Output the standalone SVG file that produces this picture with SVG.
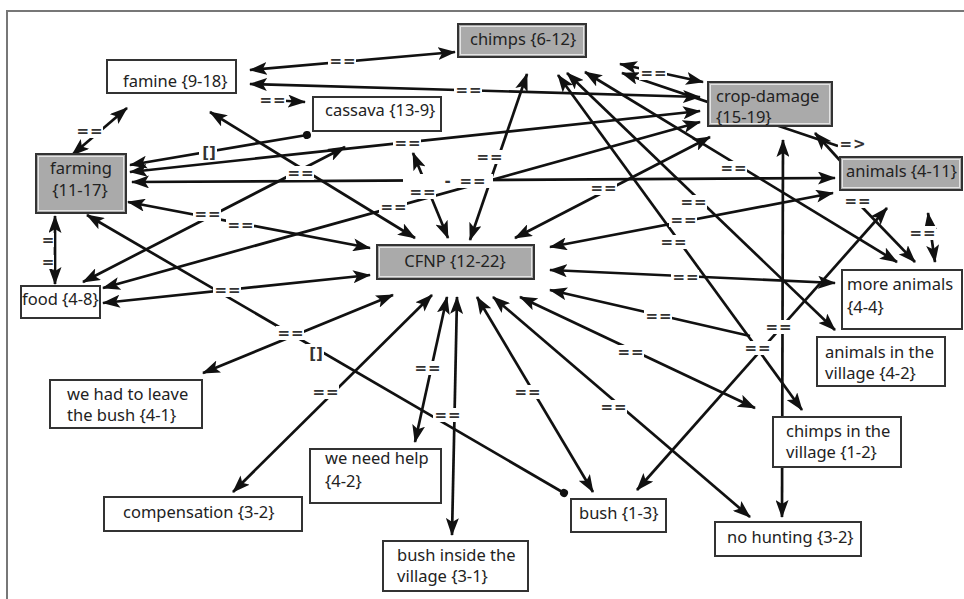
<svg xmlns="http://www.w3.org/2000/svg" width="964" height="599" viewBox="0 0 964 599">
<style>
.e{stroke:#111;stroke-width:2.7;fill:none}
.b{marker-start:url(#ah);marker-end:url(#ah)}
.ae{marker-end:url(#ah)}
.as{marker-start:url(#ah)}
.ds{marker-start:url(#dot)}
.lbg{fill:#fff}
.lt{font-family:"DejaVu Sans","Noto Sans",sans-serif;font-size:15px;font-weight:bold;fill:#333;text-anchor:middle;letter-spacing:1px}
.nw{fill:#fff;stroke:#333;stroke-width:2}
.ng{fill:#aaa;stroke:#333;stroke-width:2}
.ngi{fill:none;stroke:#e4e4e4;stroke-width:1}
.nt{font-family:"Noto Sans","Liberation Sans",sans-serif;font-size:16.5px;fill:#222}
</style>
<defs>
<marker id="ah" markerUnits="userSpaceOnUse" markerWidth="18" markerHeight="13" viewBox="0 0 18 13" refX="17" refY="6.5" orient="auto-start-reverse"><path d="M0,0 L18,6.5 L0,13 L4,6.5 z" fill="#111"/></marker>
<marker id="dot" markerUnits="userSpaceOnUse" markerWidth="10" markerHeight="10" viewBox="0 0 10 10" refX="5" refY="5" orient="auto"><circle cx="5" cy="5" r="4" fill="#111"/></marker>
</defs>
<rect width="964" height="599" fill="#fff"/>
<path d="M7,599 V11 H964" fill="none" stroke="#777" stroke-width="2"/>
<g id="connectors">
<line class="e b" x1="250" y1="70" x2="455" y2="52"/>
<line class="e b" x1="250" y1="84" x2="700" y2="97"/>
<line class="e ae" x1="262" y1="99.5" x2="305" y2="102"/>
<line class="e b" x1="620" y1="64" x2="703" y2="82"/>
<line class="e b" x1="127" y1="108" x2="72" y2="155"/>
<line class="e ds ae" x1="307" y1="135" x2="130" y2="165"/>
<line class="e b" x1="130" y1="172" x2="700" y2="111"/>
<line class="e b" x1="132" y1="182" x2="835" y2="178"/>
<line class="e b" x1="413" y1="153" x2="448" y2="238"/>
<line class="e b" x1="210" y1="112" x2="415" y2="238"/>
<line class="e b" x1="527" y1="74" x2="470" y2="240"/>
<line class="e b" x1="103" y1="288" x2="700" y2="122"/>
<line class="e b" x1="83" y1="282" x2="345" y2="147"/>
<line class="e b" x1="128" y1="202" x2="370" y2="248"/>
<line class="e as" x1="87" y1="215" x2="564" y2="493" marker-end="url(#dot)"/>
<line class="e b" x1="103" y1="303" x2="370" y2="275"/>
<line class="e b" x1="393" y1="295" x2="203" y2="373"/>
<line class="e b" x1="432" y1="295" x2="233" y2="492"/>
<line class="e b" x1="447" y1="297" x2="415" y2="442"/>
<line class="e b" x1="457" y1="297" x2="452" y2="535"/>
<line class="e b" x1="477" y1="297" x2="593" y2="492"/>
<line class="e b" x1="493" y1="297" x2="750" y2="517"/>
<line class="e b" x1="520" y1="297" x2="755" y2="408"/>
<line class="e as" x1="550" y1="290" x2="750" y2="336"/>
<line class="e b" x1="550" y1="270" x2="835" y2="283"/>
<line class="e b" x1="550" y1="247" x2="833" y2="193"/>
<line class="e b" x1="567" y1="73" x2="835" y2="330"/>
<line class="e b" x1="585" y1="72" x2="897" y2="262"/>
<line class="e b" x1="558" y1="75" x2="802" y2="410"/>
<line class="e b" x1="783" y1="140" x2="782" y2="517"/>
<line class="e b" x1="637" y1="490" x2="887" y2="208"/>
<line class="e b" x1="515" y1="238" x2="710" y2="137"/>
<line class="e as" x1="622" y1="73" x2="838" y2="146"/>
<line class="e ae" x1="845" y1="166" x2="815" y2="133"/>
<line class="e b" x1="928" y1="213" x2="935" y2="262"/>
<line class="e ae" x1="862" y1="207" x2="915" y2="262"/>
<line class="e b" x1="55" y1="216" x2="55" y2="284"/>
</g>
<g id="labels">
<g><rect class="lbg" x="328" y="54" width="28" height="14"/><text class="lt" x="343" y="66">==</text></g>
<g><rect class="lbg" x="454" y="83" width="28" height="14"/><text class="lt" x="469" y="95">==</text></g>
<g><rect class="lbg" x="258" y="93" width="28" height="14"/><text class="lt" x="273" y="105">==</text></g>
<g><rect class="lbg" x="639" y="66" width="28" height="14"/><text class="lt" x="654" y="78">==</text></g>
<g><rect class="lbg" x="75" y="124" width="28" height="14"/><text class="lt" x="90" y="136">==</text></g>
<g><rect class="lbg" x="199" y="143" width="18" height="18"/><text class="lt" x="209" y="158" style="letter-spacing:0">[]</text></g>
<g><rect class="lbg" x="393" y="136" width="28" height="14"/><text class="lt" x="408" y="148">==</text></g>
<g><rect class="lbg" x="408" y="185" width="28" height="14"/><text class="lt" x="423" y="197">==</text></g>
<g><rect class="lbg" x="286" y="166" width="28" height="14"/><text class="lt" x="301" y="178">==</text></g>
<g><rect class="lbg" x="475" y="150" width="28" height="14"/><text class="lt" x="490" y="162">==</text></g>
<g><rect class="lbg" x="403" y="174" width="90" height="14"/><text class="lt" x="448" y="186">-</text><text class="lt" x="473" y="186">==</text></g>
<g><rect class="lbg" x="669" y="213" width="28" height="14"/><text class="lt" x="684" y="225">==</text></g>
<g><rect class="lbg" x="764" y="320" width="28" height="14"/><text class="lt" x="779" y="332">==</text></g>
<g><rect class="lbg" x="743" y="341" width="28" height="14"/><text class="lt" x="758" y="353">==</text></g>
<g><rect class="lbg" x="719" y="161" width="28" height="14"/><text class="lt" x="734" y="173">==</text></g>
<g><rect class="lbg" x="589" y="181" width="28" height="14"/><text class="lt" x="604" y="193">==</text></g>
<g><rect class="lbg" x="679" y="195" width="28" height="14"/><text class="lt" x="694" y="207">==</text></g>
<g><rect class="lbg" x="659" y="235" width="28" height="14"/><text class="lt" x="674" y="247">==</text></g>
<g><rect class="lbg" x="671" y="270" width="28" height="14"/><text class="lt" x="686" y="282">==</text></g>
<g><rect class="lbg" x="644" y="309" width="28" height="14"/><text class="lt" x="659" y="321">==</text></g>
<g><rect class="lbg" x="616" y="345" width="28" height="14"/><text class="lt" x="631" y="357">==</text></g>
<g><rect class="lbg" x="599" y="400" width="28" height="14"/><text class="lt" x="614" y="412">==</text></g>
<g><rect class="lbg" x="513" y="385" width="28" height="14"/><text class="lt" x="528" y="397">==</text></g>
<g><rect class="lbg" x="433" y="408" width="28" height="14"/><text class="lt" x="448" y="420">==</text></g>
<g><rect class="lbg" x="276" y="326" width="28" height="14"/><text class="lt" x="291" y="338">==</text></g>
<g><rect class="lbg" x="213" y="283" width="28" height="14"/><text class="lt" x="228" y="295">==</text></g>
<g><rect class="lbg" x="311" y="385" width="28" height="14"/><text class="lt" x="326" y="397">==</text></g>
<g><rect class="lbg" x="413" y="361" width="28" height="14"/><text class="lt" x="428" y="373">==</text></g>
<g><rect class="lbg" x="379" y="200" width="28" height="14"/><text class="lt" x="394" y="212">==</text></g>
<g><rect class="lbg" x="193" y="207" width="28" height="14"/><text class="lt" x="208" y="219">==</text></g>
<g><rect class="lbg" x="226" y="218" width="28" height="14"/><text class="lt" x="241" y="230">==</text></g>
<g><rect class="lbg" x="306" y="344" width="18" height="18"/><text class="lt" x="316" y="359" style="letter-spacing:0">[]</text></g>
<g><rect class="lbg" x="838" y="136" width="30" height="16"/><text class="lt" x="853" y="149">=&gt;</text></g>
<g><rect class="lbg" x="843" y="194" width="28" height="14"/><text class="lt" x="858" y="206">==</text></g>
<g><rect class="lbg" x="908" y="226" width="28" height="14"/><text class="lt" x="923" y="238">==</text></g>
<g><rect class="lbg" x="42" y="233" width="12" height="14"/><text class="lt" x="48" y="245" style="letter-spacing:0">=</text></g>
<g><rect class="lbg" x="42" y="255" width="12" height="14"/><text class="lt" x="48" y="267" style="letter-spacing:0">=</text></g>
</g>
<g id="famine"><rect class="nw" x="107" y="60" width="129" height="33"/><text class="nt" x="123" y="87">famine {9-18}</text></g>
<g id="chimps"><rect class="ng" x="458" y="24" width="128" height="33"/><rect class="ngi" x="460.5" y="26.5" width="123" height="28"/><text class="nt" x="470" y="45">chimps {6-12}</text></g>
<g id="cassava"><rect class="nw" x="313" y="97" width="128" height="34"/><text class="nt" x="325" y="116">cassava {13-9}</text></g>
<g id="crop-damage"><rect class="ng" x="708" y="82" width="124" height="44"/><rect class="ngi" x="710.5" y="84.5" width="119" height="39"/><text class="nt" x="716" y="102">crop-damage</text><text class="nt" x="716" y="123">{15-19}</text></g>
<g id="animals"><rect class="ng" x="840" y="157" width="122" height="33"/><rect class="ngi" x="842.5" y="159.5" width="117" height="28"/><text class="nt" x="846" y="177">animals {4-11}</text></g>
<g id="farming"><rect class="ng" x="36" y="154" width="90" height="59"/><rect class="ngi" x="38.5" y="156.5" width="85" height="54"/><text class="nt" x="81" y="174" text-anchor="middle">farming</text><text class="nt" x="80" y="196" text-anchor="middle">{11-17}</text></g>
<g id="food"><rect class="nw" x="21" y="286" width="79" height="32"/><text class="nt" x="22" y="305">food {4-8}</text></g>
<g id="cfnp"><rect class="ng" x="377" y="245" width="157" height="34"/><rect class="ngi" x="379.5" y="247.5" width="152" height="29"/><text class="nt" x="455" y="267" text-anchor="middle">CFNP {12-22}</text></g>
<g id="more-animals"><rect class="nw" x="842" y="270" width="120" height="59"/><text class="nt" x="847" y="290">more animals</text><text class="nt" x="847" y="313">{4-4}</text></g>
<g id="animals-village"><rect class="nw" x="817" y="337" width="128" height="49"/><text class="nt" x="825" y="358">animals in the</text><text class="nt" x="825" y="379">village {4-2}</text></g>
<g id="chimps-village"><rect class="nw" x="773" y="417" width="128" height="50"/><text class="nt" x="786" y="437">chimps in the</text><text class="nt" x="786" y="458">village {1-2}</text></g>
<g id="no-hunting"><rect class="nw" x="715" y="522" width="146" height="34"/><text class="nt" x="727" y="543">no hunting {3-2}</text></g>
<g id="bush"><rect class="nw" x="571" y="499" width="95" height="33"/><text class="nt" x="579" y="519">bush {1-3}</text></g>
<g id="bush-inside"><rect class="nw" x="383" y="541" width="145" height="50"/><text class="nt" x="397" y="561">bush inside the</text><text class="nt" x="397" y="582">village {3-1}</text></g>
<g id="need-help"><rect class="nw" x="310" y="449" width="131" height="54"/><text class="nt" x="325" y="464">we need help</text><text class="nt" x="325" y="487">{4-2}</text></g>
<g id="compensation"><rect class="nw" x="104" y="497" width="198" height="34"/><text class="nt" x="123" y="518">compensation {3-2}</text></g>
<g id="leave-bush"><rect class="nw" x="50" y="380" width="152" height="48"/><text class="nt" x="67" y="400">we had to leave</text><text class="nt" x="67" y="421">the bush {4-1}</text></g>
</svg>
